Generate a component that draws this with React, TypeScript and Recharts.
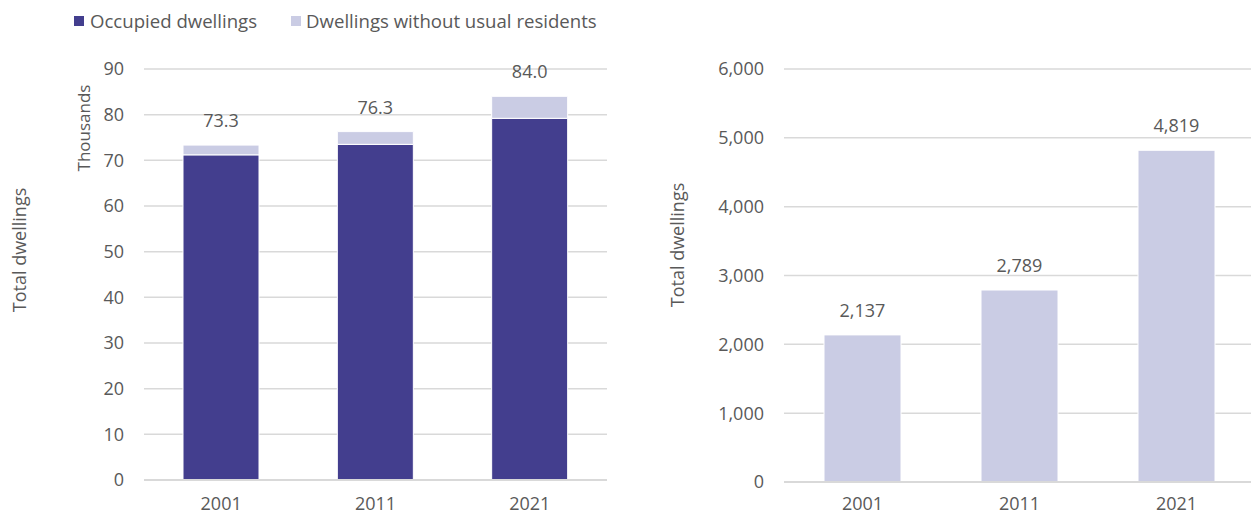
import { BarChart, Bar, XAxis, YAxis, CartesianGrid, LabelList } from "recharts";

const years = ["2001", "2011", "2021"];
// thousands
const occupied = [71.2, 73.5, 79.2];
const noResidents = [2.137, 2.789, 4.819];
// absolute count of dwellings without usual residents
const noResidentsCount = [2137, 2789, 4819];
const leftTicks = [0, 10, 20, 30, 40, 50, 60, 70, 80, 90];
const rightTicks = [0, 1000, 2000, 3000, 4000, 5000, 6000];

const DARK = "#433E8E";
const LIGHT = "#CACCE4";
const TEXT = "#595959";
const GRID = "#D9D9D9";
const FONT = "'Open Sans', sans-serif";

const leftData = years.map((year, i) => ({
  year,
  occupied: occupied[i],
  noResidents: noResidents[i],
  total: occupied[i] + noResidents[i],
}));

const rightData = years.map((year, i) => ({
  year,
  count: noResidentsCount[i],
}));

const tickStyle = { fill: TEXT, fontSize: 18, fontFamily: FONT };

function RotatedLabel({ text, x, y, size }: { text: string; x: number; y: number; size: number }) {
  return (
    <div
      style={{
        position: "absolute",
        left: x,
        top: y,
        transform: "translate(-50%, -50%) rotate(-90deg)",
        whiteSpace: "nowrap",
        fontSize: size,
        color: TEXT,
        fontFamily: FONT,
      }}
    >
      {text}
    </div>
  );
}

export default function App() {
  return (
    <div
      style={{
        position: "absolute",
        left: 0,
        top: 0,
        width: 1251,
        height: 515,
        overflow: "hidden",
        background: "#fff",
        fontFamily: FONT,
      }}
    >
      {/* legend */}
      <div
        style={{
          position: "absolute",
          left: 74,
          top: 8,
          display: "flex",
          alignItems: "center",
          fontSize: 18.6,
          color: TEXT,
          lineHeight: "26px",
        }}
      >
        <span style={{ width: 10, height: 10, background: DARK, marginRight: 6 }} />
        <span>Occupied dwellings</span>
        <span style={{ width: 10, height: 10, background: LIGHT, marginLeft: 34, marginRight: 5 }} />
        <span>Dwellings without usual residents</span>
      </div>

      <RotatedLabel text="Total dwellings" x={19} y={250} size={18} />
      <RotatedLabel text="Thousands" x={83} y={128} size={17} />
      <RotatedLabel text="Total dwellings" x={677} y={245} size={18} />

      <div style={{ position: "absolute", left: 0, top: 0 }}>
        <BarChart
          width={620}
          height={515}
          data={leftData}
          margin={{ top: 69, right: 13, bottom: 5, left: 84 }}
        >
          <CartesianGrid vertical={false} stroke={GRID} strokeWidth={1.5} />
          <XAxis
            dataKey="year"
            height={30}
            tickLine={false}
            axisLine={{ stroke: GRID, strokeWidth: 2 }}
            tick={tickStyle}
            tickMargin={11}
          />
          <YAxis
            width={60}
            domain={[0, 90]}
            ticks={leftTicks}
            interval={0}
            axisLine={false}
            tickLine={false}
            tick={tickStyle}
            tickMargin={14}
          />
          <Bar dataKey="occupied" stackId="a" fill={DARK} stroke="#fff" strokeWidth={1} barSize={76} isAnimationActive={false} />
          <Bar dataKey="noResidents" stackId="a" fill={LIGHT} stroke="#fff" strokeWidth={1} barSize={76} isAnimationActive={false}>
            <LabelList
              dataKey="total"
              position="top"
              offset={18}
              fill={TEXT}
              fontSize={18}
              fontFamily={FONT}
              formatter={(v: any) => Number(v).toFixed(1)}
            />
          </Bar>
        </BarChart>
      </div>

      <div style={{ position: "absolute", left: 640, top: 0 }}>
        <BarChart
          width={620}
          height={515}
          data={rightData}
          margin={{ top: 69, right: 5, bottom: 3, left: 84 }}
        >
          <CartesianGrid vertical={false} stroke={GRID} strokeWidth={1.5} />
          <XAxis
            dataKey="year"
            height={30}
            tickLine={false}
            axisLine={{ stroke: GRID, strokeWidth: 2 }}
            tick={tickStyle}
            tickMargin={9}
          />
          <YAxis
            width={60}
            domain={[0, 6000]}
            ticks={rightTicks}
            interval={0}
            axisLine={false}
            tickLine={false}
            tick={tickStyle}
            tickMargin={14}
            tickFormatter={(v: number) => v.toLocaleString("en-US")}
          />
          <Bar dataKey="count" fill={LIGHT} stroke="#fff" strokeWidth={1} barSize={77} isAnimationActive={false}>
            <LabelList
              dataKey="count"
              position="top"
              offset={18}
              fill={TEXT}
              fontSize={18}
              fontFamily={FONT}
              formatter={(v: any) => Number(v).toLocaleString("en-US")}
            />
          </Bar>
        </BarChart>
      </div>
    </div>
  );
}
